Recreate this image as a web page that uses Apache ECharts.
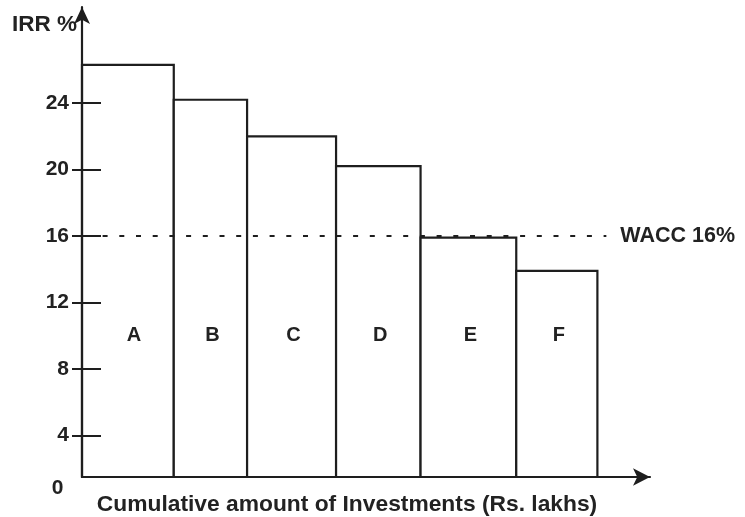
<!DOCTYPE html>
<html><head><meta charset="utf-8">
<script src="https://cdn.jsdelivr.net/npm/echarts@6/dist/echarts.min.js"></script>
<style>html,body{margin:0;padding:0;background:#fff}#c{width:745px;height:517px}</style>
</head><body><div id="c"></div>
<script>
const projects = ['A', 'B', 'C', 'D', 'E', 'F'];
const investments = [16.4, 13.1, 15.9, 15.1, 17.1, 14.5];
const irr = [26.3, 24.2, 22.0, 20.2, 15.9, 13.9];
const yTicks = [4, 8, 12, 16, 20, 24];
const wacc = 16;
const waccEnd = 93.7;
const labelLevel = 10;
const yMin = 1.5, yMax = 29.78, xMax = 101.5;

let cum = 0;
const barData = projects.map((p, i) => { const s = cum; cum += investments[i]; return [s, cum, irr[i]]; });

const FONT = '"Liberation Sans", Arial, sans-serif';
const INK = '#1e1e1e';
const chart = echarts.init(document.getElementById('c'), null, {renderer: 'canvas'});
chart.setOption({
  animation: false,
  backgroundColor: '#fff',
  grid: {left: 82, right: 95, top: 7, bottom: 40, containLabel: false},
  xAxis: {
    type: 'value', min: 0, max: xMax, z: 10,
    axisLine: {show: true, lineStyle: {color: INK, width: 2.2}, symbol: ['none', 'arrow'], symbolSize: [13, 17]},
    axisTick: {show: false}, axisLabel: {show: false}, splitLine: {show: false}
  },
  yAxis: [{
    type: 'value', min: yMin, max: yMax, z: 10,
    axisLine: {show: true, lineStyle: {color: INK, width: 2.2}, symbol: ['none', 'arrow'], symbolSize: [12, 17]},
    axisTick: {show: true, customValues: yTicks, length: 10, inside: false, lineStyle: {color: INK, width: 2}},
    axisLabel: {show: true, customValues: yTicks, margin: 13, color: '#222', fontSize: 21, fontWeight: 'bold', fontFamily: FONT},
    splitLine: {show: false}
  }, {
    type: 'value', min: yMin, max: yMax, z: 10, position: 'left', offset: 0,
    axisLine: {show: false},
    axisTick: {show: true, customValues: yTicks, length: 19, inside: true, lineStyle: {color: INK, width: 2}},
    axisLabel: {show: false}, splitLine: {show: false}
  }],
  graphic: [
    {type: 'text', x: 12, y: 25, style: {text: 'IRR %', font: 'bold 22.5px ' + FONT, fill: '#222', align: 'left', verticalAlign: 'middle'}},
    {type: 'text', x: 57.5, y: 488, style: {text: '0', font: 'bold 21px ' + FONT, fill: '#222', align: 'center', verticalAlign: 'middle'}},
    {type: 'text', x: 347, y: 505, style: {text: 'Cumulative amount of Investments (Rs. lakhs)', font: 'bold 22.8px ' + FONT, fill: '#222', align: 'center', verticalAlign: 'middle'}}
  ],
  series: [{
    type: 'custom',
    data: barData,
    encode: {x: [0, 1], y: 2},
    z: 2,
    silent: true,
    renderItem: function (params, api) {
      const x0 = api.value(0), x1 = api.value(1), v = api.value(2);
      const p0 = api.coord([x0, yMin]);
      const p1 = api.coord([x1, v]);
      const lp = api.coord([(x0 + x1) / 2, labelLevel]);
      return {type: 'group', children: [
        {type: 'rect', shape: {x: p0[0], y: p1[1], width: p1[0] - p0[0], height: p0[1] - p1[1]},
         style: {fill: '#fff', stroke: INK, lineWidth: 2.2}},
        {type: 'text', x: lp[0] + (params.dataIndex === 0 ? 6 : 2), y: lp[1],
         style: {text: projects[params.dataIndex], font: 'bold 20px ' + FONT, fill: '#222', align: 'center', verticalAlign: 'middle'}}
      ]};
    }
  }, {
    type: 'line',
    data: [[0, wacc], [waccEnd, wacc]],
    symbol: 'none', showSymbol: false, silent: true, z: 5,
    lineStyle: {color: INK, width: 2, type: [5, 11.7], dashOffset: 12.8},
    endLabel: {show: true, formatter: 'WACC 16%', distance: 14, color: '#222', fontSize: 21.5, fontWeight: 'bold', fontFamily: FONT}
  }]
});
</script></body></html>
